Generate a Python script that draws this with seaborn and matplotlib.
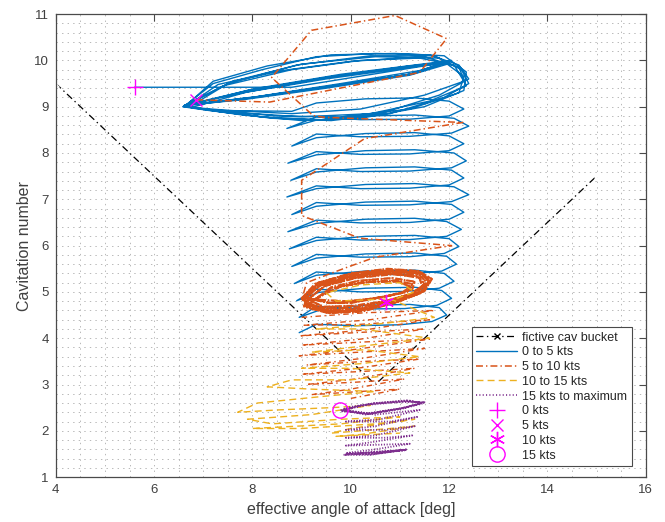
import matplotlib
matplotlib.use("Agg")
import matplotlib.pyplot as plt
from matplotlib.lines import Line2D
import seaborn as sns
import pandas as pd

# ---------------- data ----------------
bucket_x = [4.0, 10.5, 15.0]
bucket_y = [9.5, 3.0, 7.5]

# 0 to 5 kts : start line, upper bundle of loops, then descending spiral
blue_start = [(5.6, 9.42), (8.8, 9.42), (11.9, 9.95)]
blue_bundle = [
    (11.2, 9.7), (9.6, 9.45), (8.0, 9.2), (6.62, 9.03),
    (7.8, 9.3), (9.5, 9.6), (11.0, 9.82), (11.9, 9.95), (11.2, 9.7), (9.6, 9.45), (8.0, 9.2), (6.62, 9.03),
    (7.9, 9.35), (9.6, 9.65), (11.2, 9.88), (12.0, 9.97), (11.3, 9.72), (9.5, 9.42), (7.9, 9.18), (6.65, 9.02),
    (7.4, 9.45), (8.8, 9.8), (10.2, 10.0), (11.4, 10.05), (12.1, 9.9), (12.3, 9.55), (11.5, 9.25), (10.2, 8.95), (8.8, 8.85), (7.5, 8.92), (6.6, 9.0),
    (7.2, 9.5), (8.2, 9.8), (9.3, 10.08), (10.5, 10.15), (11.6, 10.12), (12.2, 9.9), (12.4, 9.6), (11.8, 9.25), (10.6, 8.85), (9.4, 8.72), (8.2, 8.78), (7.1, 8.92), (6.58, 9.0),
    (8.0, 9.38), (9.8, 9.7), (11.3, 9.9), (12.05, 10.0), (11.4, 9.78), (9.8, 9.5), (8.1, 9.22), (6.7, 9.04),
    (7.3, 9.48), (8.6, 9.78), (10.0, 9.98), (11.5, 10.08), (12.2, 9.85), (12.35, 9.45), (11.6, 9.12), (10.4, 8.85), (9.0, 8.78), (7.6, 8.88), (6.62, 9.0),
    (7.2, 9.55), (8.3, 9.88), (9.6, 10.12), (10.9, 10.15), (11.9, 10.1), (12.35, 9.75), (12.3, 9.35), (11.5, 9.0), (10.2, 8.75), (9.0, 8.7), (7.8, 8.82), (6.75, 8.98),
    (7.9, 9.32), (9.7, 9.66), (11.4, 9.9), (12.0, 9.93), (11.2, 9.68), (9.5, 9.4), (7.8, 9.15), (6.8, 9.05),
    (7.5, 9.5), (8.9, 9.9), (10.4, 10.1), (11.7, 10.1), (12.25, 9.8), (12.4, 9.5), (11.9, 9.2), (10.8, 8.85), (9.6, 8.7), (8.4, 8.75), (7.3, 8.9), (6.6, 9.02),
    (7.6, 9.55), (9.0, 9.92), (10.5, 10.08), (11.8, 10.05), (12.3, 9.65), (12.2, 9.3), (11.2, 8.95), (9.8, 8.78), (8.5, 8.8), (7.2, 8.92),
]
blue_spiral = [
    (8.8, 8.9), (9.3, 9.08), (10.3, 9.17), (11.3, 9.19), (12.0, 9.12), (12.3, 8.95), (12.0, 8.8), (11.2, 8.73), (10.2, 8.72), (9.3, 8.78),
    (8.7, 8.53), (9.3, 8.71), (10.3, 8.8), (11.3, 8.82), (12.1, 8.75), (12.4, 8.58), (12.05, 8.43), (11.2, 8.36), (10.2, 8.35), (9.3, 8.41),
    (8.8, 8.15), (9.3, 8.33), (10.3, 8.42), (11.3, 8.44), (12.0, 8.37), (12.3, 8.2), (12.0, 8.05), (11.2, 7.98), (10.2, 7.97), (9.3, 8.03),
    (8.72, 7.78), (9.3, 7.96), (10.3, 8.05), (11.3, 8.07), (12.1, 8.0), (12.35, 7.83), (12.05, 7.68), (11.2, 7.61), (10.2, 7.6), (9.3, 7.66),
    (8.78, 7.41), (9.3, 7.59), (10.3, 7.68), (11.3, 7.7), (12.05, 7.63), (12.3, 7.46), (12.0, 7.31), (11.2, 7.24), (10.2, 7.23), (9.3, 7.29),
    (8.7, 7.05), (9.3, 7.23), (10.3, 7.32), (11.3, 7.34), (12.1, 7.27), (12.4, 7.1), (12.05, 6.95), (11.2, 6.88), (10.2, 6.87), (9.3, 6.93),
    (8.8, 6.67), (9.3, 6.85), (10.3, 6.94), (11.3, 6.96), (12.05, 6.89), (12.3, 6.72), (12.0, 6.57), (11.2, 6.5), (10.2, 6.49), (9.3, 6.55),
    (8.72, 6.3), (9.3, 6.48), (10.3, 6.57), (11.3, 6.59), (11.95, 6.52), (12.25, 6.35), (11.95, 6.2), (11.2, 6.13), (10.2, 6.12), (9.3, 6.18),
    (8.75, 5.93), (9.3, 6.11), (10.3, 6.2), (11.3, 6.22), (12.0, 6.15), (12.2, 5.98), (11.9, 5.83), (11.2, 5.76), (10.2, 5.75), (9.3, 5.81),
    (8.8, 5.55), (9.3, 5.73), (10.3, 5.82), (11.3, 5.84), (11.95, 5.77), (12.15, 5.6), (11.85, 5.45), (11.1, 5.38), (10.2, 5.37), (9.3, 5.43),
    (8.85, 5.18), (9.3, 5.36), (10.3, 5.45), (11.3, 5.47), (11.9, 5.4), (12.1, 5.23), (11.8, 5.08), (11.1, 5.01), (10.2, 5.0), (9.3, 5.06),
    (8.9, 4.81), (9.35, 4.99), (10.3, 5.08), (11.3, 5.1), (11.85, 5.03), (12.05, 4.86), (11.75, 4.71), (11.1, 4.64), (10.2, 4.63), (9.3, 4.69),
    (8.95, 4.45), (9.4, 4.62), (10.3, 4.71), (11.2, 4.73), (11.8, 4.66), (11.95, 4.5), (11.65, 4.36), (11.0, 4.29), (10.1, 4.27), (9.3, 4.3),
    (8.95, 4.12),
]

# 5 to 10 kts : big descending loops, dense ellipse, then lower zigzags
orange_path = [
    (6.85, 9.15), (8.35, 9.1), (11.4, 9.74), (11.95, 10.47), (10.9, 10.97), (9.2, 10.65),
    (8.39, 9.63), (9.23, 8.81), (9.47, 8.77), (12.28, 8.66), (10.28, 8.31), (9.0, 7.41),
    (9.0, 6.65), (10.18, 6.16), (12.05, 6.0), (10.5, 5.75), (9.92, 5.53), (9.1, 5.2),
]
orange_ellipse = [
    (9.0, 4.82), (9.3, 5.15), (10.0, 5.36), (10.8, 5.45), (11.4, 5.42), (11.62, 5.25), (11.45, 5.0), (10.9, 4.8), (10.2, 4.6), (9.5, 4.56), (9.05, 4.7),
    (9.15, 4.85), (9.45, 5.12), (10.1, 5.3), (10.85, 5.38), (11.35, 5.34), (11.5, 5.18), (11.3, 4.98), (10.8, 4.82), (10.1, 4.66), (9.5, 4.64), (9.15, 4.75),
    (9.35, 4.88), (9.65, 5.08), (10.2, 5.2), (10.9, 5.25), (11.25, 5.17), (11.15, 5.0), (10.6, 4.88), (10.0, 4.76), (9.55, 4.76), (9.3, 4.82),
    (9.05, 4.9), (9.35, 5.2), (10.05, 5.4), (10.85, 5.47), (11.45, 5.4), (11.6, 5.2), (11.4, 4.96), (10.85, 4.76), (10.15, 4.58), (9.45, 4.6), (9.1, 4.75),
    (9.2, 4.9), (9.5, 5.15), (10.15, 5.33), (10.85, 5.4), (11.4, 5.3), (11.45, 5.12), (11.2, 4.95), (10.7, 4.8), (10.05, 4.7), (9.45, 4.68), (9.2, 4.8),
    (9.4, 4.92), (9.8, 5.12), (10.4, 5.22), (10.95, 5.22), (11.2, 5.12), (11.05, 4.98), (10.5, 4.86), (9.9, 4.8), (9.5, 4.82),
    (9.0, 4.86), (9.28, 5.18), (10.0, 5.4), (10.75, 5.5), (11.38, 5.45), (11.65, 5.28), (11.5, 5.02), (10.95, 4.78), (10.25, 4.58), (9.55, 4.54), (9.05, 4.68),
    (9.1, 4.88), (9.4, 5.16), (10.05, 5.34), (10.8, 5.42), (11.38, 5.38), (11.55, 5.2), (11.35, 4.98), (10.85, 4.8), (10.15, 4.63), (9.5, 4.6), (9.12, 4.72),
    (9.3, 4.86), (9.6, 5.1), (10.15, 5.24), (10.85, 5.3), (11.3, 5.22), (11.25, 5.05), (10.8, 4.92), (10.1, 4.8), (9.6, 4.76), (9.3, 4.84),
    (9.02, 4.8), (9.32, 5.12), (10.02, 5.34), (10.82, 5.44), (11.42, 5.4), (11.6, 5.22), (11.42, 4.98), (10.88, 4.78), (10.18, 4.6), (9.48, 4.57), (9.05, 4.72),
]
orange_lower = [
    (9.0, 4.45), (10.3, 4.55), (11.7, 4.6), (10.4, 4.4), (9.05, 4.28),
    (10.2, 4.3), (11.6, 4.4), (10.3, 4.18), (8.95, 4.05),
    (10.1, 4.12), (11.5, 4.2), (10.2, 3.98), (9.0, 3.85),
    (10.3, 3.92), (11.6, 3.98), (10.1, 3.76), (8.95, 3.62),
    (10.2, 3.7), (11.5, 3.78), (10.2, 3.56), (9.1, 3.42),
    (10.3, 3.5), (11.4, 3.55), (10.0, 3.33), (9.0, 3.22),
    (10.2, 3.28), (11.3, 3.35), (10.1, 3.12), (9.1, 3.0),
    (10.1, 3.05), (11.1, 3.12), (10.0, 2.9), (9.2, 2.78),
    (10.2, 2.85), (11.0, 2.9), (10.0, 2.7),
]

# 10 to 15 kts
yellow_path = [
    (10.72, 4.78), (11.3, 5.0), (11.0, 5.2), (10.2, 5.15), (9.5, 4.98), (9.7, 4.8), (10.8, 4.85),
    (11.7, 4.45), (10.5, 4.3), (9.3, 4.2), (10.2, 4.2), (11.6, 4.0), (10.4, 3.85), (9.2, 3.7),
    (10.3, 3.75), (11.4, 3.6), (10.2, 3.45), (9.0, 3.35), (10.0, 3.35), (11.2, 3.25), (10.0, 3.1),
    (8.8, 3.1), (8.3, 2.95), (9.2, 2.9), (10.5, 2.85), (9.5, 2.75), (8.1, 2.6), (7.7, 2.4),
    (8.5, 2.45), (9.6, 2.5), (10.4, 2.55), (9.2, 2.35), (7.9, 2.25), (8.4, 2.15), (9.8, 2.25),
    (11.0, 2.3), (9.8, 2.15), (8.0, 2.05), (9.0, 2.05), (10.5, 2.15), (11.3, 2.25), (10.0, 2.05),
    (9.6, 1.95), (10.8, 2.05), (11.3, 2.1), (10.2, 1.92), (9.7, 1.88), (11.0, 1.95),
]

# 15 kts to maximum
purple_path = [
    (9.79, 2.45), (10.3, 2.35), (11.0, 2.48), (11.45, 2.6), (11.2, 2.65), (10.5, 2.6), (9.9, 2.5),
    (9.8, 2.42), (10.4, 2.38), (11.1, 2.5), (11.5, 2.62), (11.0, 2.62), (10.2, 2.55), (9.85, 2.45),
    (10.3, 2.37), (11.05, 2.49), (11.48, 2.61), (11.1, 2.64), (10.4, 2.58), (9.82, 2.44),
    (10.35, 2.36), (11.02, 2.47), (11.46, 2.59), (11.15, 2.66), (10.45, 2.59), (9.84, 2.46),
    (10.5, 2.35), (11.4, 2.45), (10.6, 2.25), (9.9, 2.2), (10.8, 2.2), (11.35, 2.3), (10.5, 2.1),
    (9.9, 2.02), (10.7, 2.02), (11.3, 2.1), (10.5, 1.9), (9.9, 1.85), (10.7, 1.85), (11.25, 1.9),
    (10.4, 1.75), (9.9, 1.68), (10.6, 1.7), (11.2, 1.72), (10.5, 1.6), (9.9, 1.52), (10.5, 1.52),
    (11.15, 1.6), (10.4, 1.48), (9.85, 1.48), (10.5, 1.55), (11.1, 1.58), (10.4, 1.5), (9.88, 1.49),
    (10.45, 1.54), (11.12, 1.59), (10.42, 1.49), (9.9, 1.5),
]

marker_labels = ["0 kts", "5 kts", "10 kts", "15 kts"]
marker_x = [5.6, 6.85, 10.72, 9.79]
marker_y = [9.42, 9.15, 4.78, 2.45]

# ---------------- styling ----------------
sns.set_theme(style="white")
plt.rcParams["font.family"] = ["Liberation Sans", "DejaVu Sans"]
plt.rcParams["lines.scale_dashes"] = False

BLUE = "#0072BD"
ORANGE = "#D95319"
YELLOW = "#EDB120"
PURPLE = "#7E2F8E"
MAG = "#FF00FF"
TXT = "#404040"
ASTER = (6, 2, 0)

fig = plt.figure(figsize=(6.65, 5.22), dpi=100)
ax = fig.add_axes([0.084, 0.086, 0.887, 0.887])


def draw(points, **kw):
    df = pd.DataFrame(points, columns=["x", "y"])
    sns.lineplot(data=df, x="x", y="y", sort=False, estimator=None, ax=ax, **kw)


draw(list(zip(bucket_x, bucket_y)), color="black", lw=0.9,
     linestyle=(0, (5, 2.5, 1, 2.5)), marker="x", markersize=5, mew=0.9)
draw(blue_start + blue_bundle + blue_spiral, color=BLUE, lw=1.0)
draw(orange_path + orange_ellipse, color=ORANGE, lw=1.1, linestyle=(0, (5, 2.2, 1, 2.2)))
draw(orange_ellipse, color=ORANGE, lw=1.5, linestyle=(0, (5, 1.2, 1, 1.2)))
draw(orange_lower, color=ORANGE, lw=1.0, linestyle=(0, (4, 2.5, 1, 2.5)))
draw(yellow_path, color=YELLOW, lw=1.0, linestyle=(0, (5, 3)))
draw(purple_path, color=PURPLE, lw=1.3, linestyle=(0, (0.8, 1.2)))

mk = pd.DataFrame({"x": marker_x, "y": marker_y, "lab": marker_labels})
for (lab, m, ms) in zip(marker_labels, ["+", "x", ASTER, "o"], [12, 9, 11, 11]):
    sub = mk[mk["lab"] == lab]
    ax.plot(sub["x"], sub["y"], linestyle="none", marker=m, markersize=ms,
            mec=MAG, mfc="none" if m == "o" else MAG, mew=1.0)

ax.set_xlim(4, 16)
ax.set_ylim(1, 11)
ax.set_xticks([4, 6, 8, 10, 12, 14, 16])
ax.set_yticks(list(range(1, 12)))
ax.set_xticks([4 + 0.5 * i for i in range(25)], minor=True)
ax.set_yticks([1 + 0.2 * i for i in range(51)], minor=True)
ax.grid(which="both", color="#b8b8b8", linestyle=(0, (1, 3)), lw=0.7)
ax.tick_params(which="major", direction="in", length=5, width=0.8, top=True, right=True,
               colors="#4a4a4a", labelcolor=TXT, labelsize=9.5, pad=5)
ax.tick_params(which="minor", length=0)
for s in ax.spines.values():
    s.set_color("#4a4a4a")
    s.set_linewidth(0.9)
ax.set_xlabel("effective angle of attack [deg]", fontsize=11.5, color=TXT, labelpad=4)
ax.set_ylabel("Cavitation number", fontsize=11.5, color=TXT, labelpad=1.5)

handles = [
    Line2D([], [], color="black", lw=0.9, linestyle=(0, (5, 2.5, 1, 2.5)), marker="x", markersize=5),
    Line2D([], [], color=BLUE, lw=1.0),
    Line2D([], [], color=ORANGE, lw=1.1, linestyle=(0, (5, 2.2, 1, 2.2))),
    Line2D([], [], color=YELLOW, lw=1.0, linestyle=(0, (5, 3))),
    Line2D([], [], color=PURPLE, lw=1.2, linestyle=(0, (0.8, 1.6))),
    Line2D([], [], color=MAG, linestyle="none", marker="+", markersize=12, mew=1.0),
    Line2D([], [], color=MAG, linestyle="none", marker="x", markersize=9, mew=1.0),
    Line2D([], [], color=MAG, linestyle="none", marker=ASTER, markersize=11, mew=1.0),
    Line2D([], [], color=MAG, mfc="none", linestyle="none", marker="o", markersize=11, mew=1.0),
]
labels = ["fictive cav bucket", "0 to 5 kts", "5 to 10 kts", "10 to 15 kts",
          "15 kts to maximum"] + marker_labels
leg = ax.legend(handles, labels, loc="lower right", bbox_to_anchor=(0.976, 0.024),
                fontsize=9, frameon=True, fancybox=False, edgecolor="#4a4a4a",
                framealpha=1, borderpad=0.35, labelspacing=0.22, handlelength=3.3,
                handletextpad=0.4, borderaxespad=0)
leg.get_frame().set_linewidth(0.8)
for t in leg.get_texts():
    t.set_color("#262626")

fig.savefig("out.png", dpi=100)
